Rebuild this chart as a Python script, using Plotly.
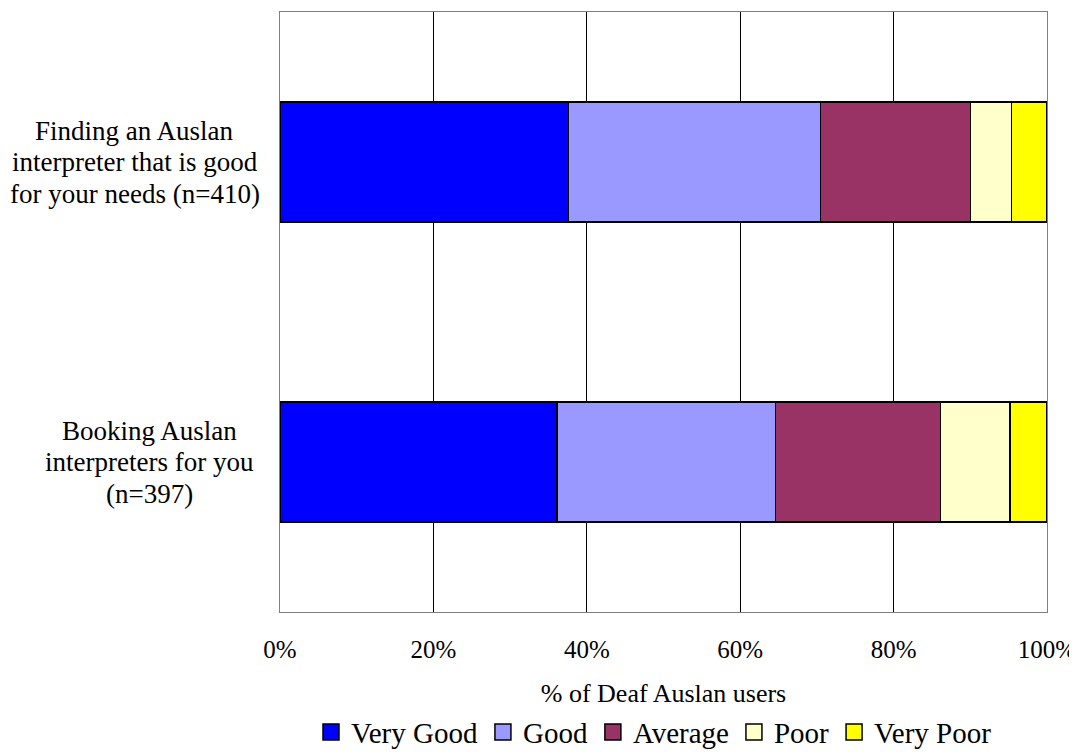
import plotly.graph_objects as go

categories = ["Finding an Auslan<br>interpreter that is good<br>for your needs (n=410)",
              "Booking Auslan<br>interpreters for you<br>(n=397)"]
cat_keys = ["finding", "booking"]
series_names = ["Very Good", "Good", "Average", "Poor", "Very Poor"]
very_good = [37.6, 36.1]
good = [32.9, 28.5]
average = [19.5, 21.5]
poor = [5.4, 9.1]
very_poor = [4.6, 4.8]
colors = ["#0000FF", "#9999FF", "#993366", "#FFFFCC", "#FFFF00"]
x_ticks = [0, 20, 40, 60, 80, 100]
x_ticklabels = ["0%", "20%", "40%", "60%", "80%", "100%"]

FONT = "Liberation Serif, Times New Roman, serif"

fig = go.Figure()
for name, vals, col in zip(series_names, [very_good, good, average, poor, very_poor], colors):
    fig.add_trace(go.Bar(
        y=cat_keys, x=vals, name=name, orientation="h",
        marker=dict(color=col, line=dict(color="black", width=1.5)),
        hoverinfo="x+name", showlegend=False,
    ))
# legend-only entries with larger square swatches
for name, col in zip(series_names, colors):
    fig.add_trace(go.Scatter(
        x=[None], y=[None], mode="markers", name=name,
        marker=dict(symbol="square", size=17, color=col, line=dict(color="black", width=1.5)),
        showlegend=True, hoverinfo="skip",
    ))

# category labels: each line centered, Excel-like line spacing
label_centers = [-0.1895, -0.1705]
line_gap = 31.5
for key, label, xc in zip(cat_keys, categories, label_centers):
    lines = label.split("<br>")
    n = len(lines)
    for i, line in enumerate(lines):
        fig.add_annotation(x=xc, xref="paper", y=key, yref="y", text=line,
                           showarrow=False, xanchor="center", yanchor="middle",
                           yshift=((n - 1) / 2 - i) * line_gap,
                           font=dict(family=FONT, size=27, color="black"))

fig.update_layout(
    barmode="stack",
    bargap=0.6,
    width=1069, height=747,
    margin=dict(l=272, r=30, t=4, b=143, autoexpand=False),
    paper_bgcolor="white", plot_bgcolor="white",
    font=dict(family=FONT, size=25, color="black"),
    showlegend=True,
    legend=dict(orientation="h", x=0.4876, xanchor="center", y=-0.2003, yanchor="middle",
                font=dict(family=FONT, size=29), traceorder="normal",
                itemwidth=30, tracegroupgap=0, bgcolor="rgba(0,0,0,0)"),
    xaxis=dict(range=[0, 100], tickvals=x_ticks, ticktext=x_ticklabels,
               showgrid=True, gridcolor="black", gridwidth=1,
               showline=True, linecolor="#808080", linewidth=1, mirror=True,
               ticks="", ticklabelstandoff=15, zeroline=False,
               title=dict(text="% of Deaf Auslan users", font=dict(family=FONT, size=26), standoff=21),
               tickfont=dict(family=FONT, size=25)),
    yaxis=dict(categoryorder="array", categoryarray=cat_keys[::-1],
               showticklabels=False, showgrid=False,
               showline=True, linecolor="#808080", linewidth=1, mirror=True,
               ticks=""),
)

fig.write_html("out.html")
